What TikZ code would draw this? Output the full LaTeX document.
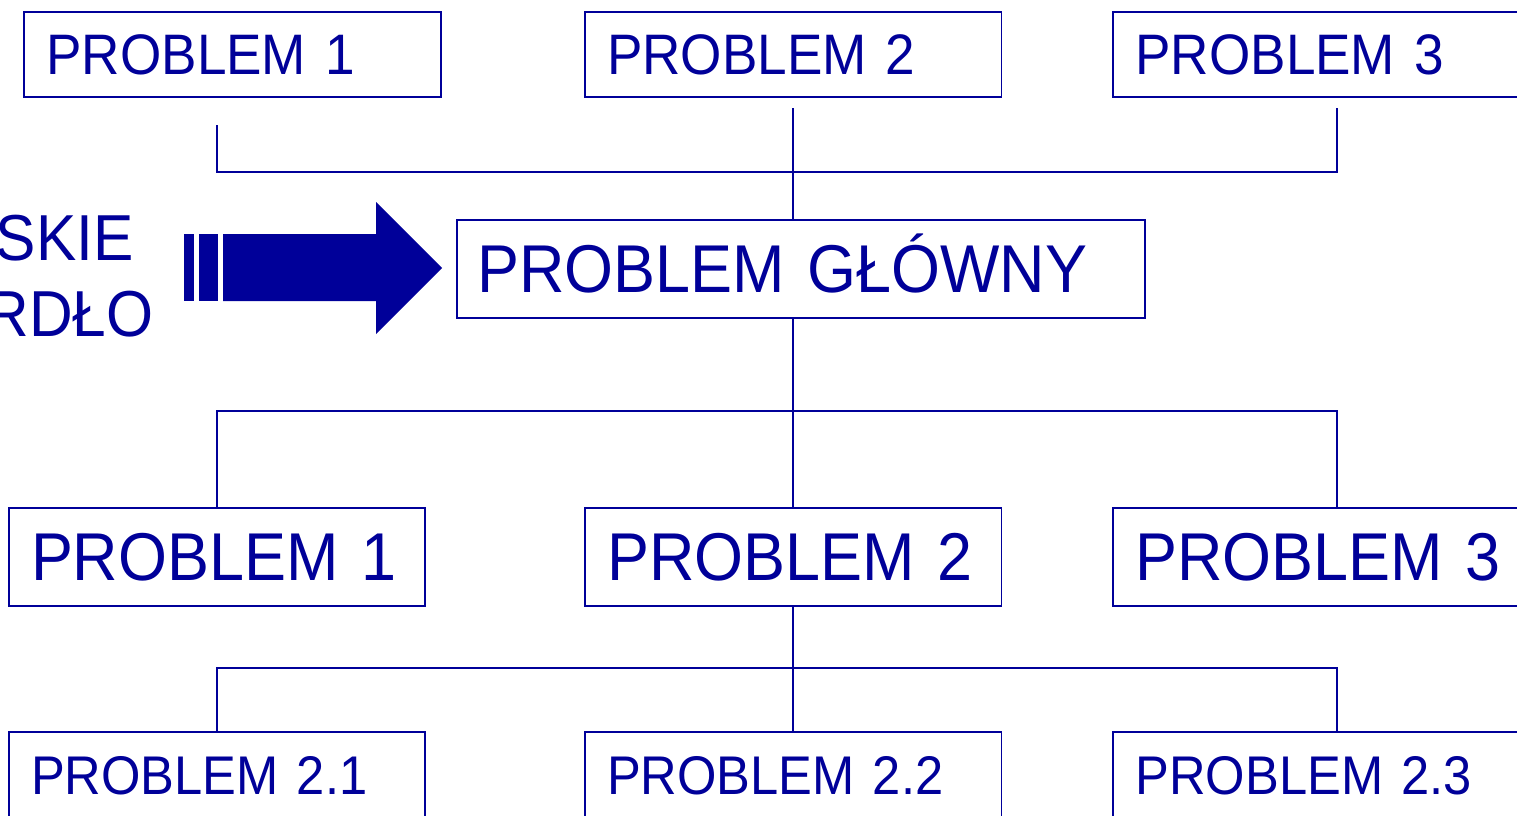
\documentclass[tikz,border=0pt]{standalone}
\usepackage{fontspec}
\setmainfont{Liberation Sans}[FakeStretch=0.93]
\definecolor{navy}{RGB}{0,0,153}
\tikzset{
  box/.style={draw=navy,line width=1.1pt,text=navy,inner xsep=0.45cm,inner ysep=0pt,align=left,text depth=0pt,text width=7.44cm},
  small/.style={box,font=\fontsize{32.5}{39}\selectfont,minimum height=1.71cm,text height=22.7pt},
  big/.style={box,font=\fontsize{38.5}{46}\selectfont,minimum height=1.96cm,text height=27pt},
  sub/.style={box,font=\fontsize{31}{37}\selectfont,minimum height=1.72cm,text height=21.7pt},
  wire/.style={navy,line width=1.1pt},
  side/.style={text=navy,font=\fontsize{37}{44}\selectfont,anchor=base east,inner sep=0pt}
}
\begin{document}
\begin{tikzpicture}[x=0.02cm,y=-0.02cm]
  \useasboundingbox (0,0) rectangle (1517,815);
  \clip (0,0) rectangle (1517,815);
  % top row
  \node[small] (t1) at (232.5,54.5) {PROBLEM 1};
  \node[small] (t2) at (793,54.5) {PROBLEM 2};
  \node[small] (t3) at (1321.5,54.5) {PROBLEM 3};
  % main problem
  \node[big,inner xsep=0.41cm,text width=12.94cm] (main) at (801,269) {PROBLEM GŁÓWNY};
  % middle row
  \node[big] (m1) at (217,557) {PROBLEM 1};
  \node[big] (m2) at (793,557) {PROBLEM 2};
  \node[big] (m3) at (1321.5,557) {PROBLEM 3};
  % bottom row
  \node[sub] (b1) at (217,775) {PROBLEM 2.1};
  \node[sub] (b2) at (793,775) {PROBLEM 2.2};
  \node[sub] (b3) at (1321.5,775) {PROBLEM 2.3};
  % source text and arrow
  \node[side] (src1) at (134,260.7) {SKIE};
  \node[side] (src2) at (154,336.7) {RDŁO};
  \fill[navy] (184,234) rectangle (194,301);
  \fill[navy] (199,234) rectangle (218,301);
  \fill[navy] (223,234) -- (376,234) -- (376,202) -- (442,268) -- (376,334) -- (376,301) -- (223,301) -- cycle;
  % connectors
  \coordinate (t1end) at (217,125);
  \coordinate (t2end) at (793,108);
  \coordinate (t3end) at (1337,108);
  \coordinate (topbus) at (0,172);
  \coordinate (midbus) at (0,411);
  \coordinate (botbus) at (0,668);
  \draw[wire] (t1end) |- (t3end |- topbus) -- (t3end);
  \draw[wire] (t2end) -- (main.north -| t2end);
  \draw[wire] (main.south -| m2) -- (m2.north);
  \draw[wire] (m1.north) |- (t3end |- midbus) -- (t3end |- m3.north);
  \draw[wire] (m2.south) -- (b2.north);
  \draw[wire] (b1.north) |- (t3end |- botbus) -- (t3end |- b3.north);
\end{tikzpicture}
\end{document}
